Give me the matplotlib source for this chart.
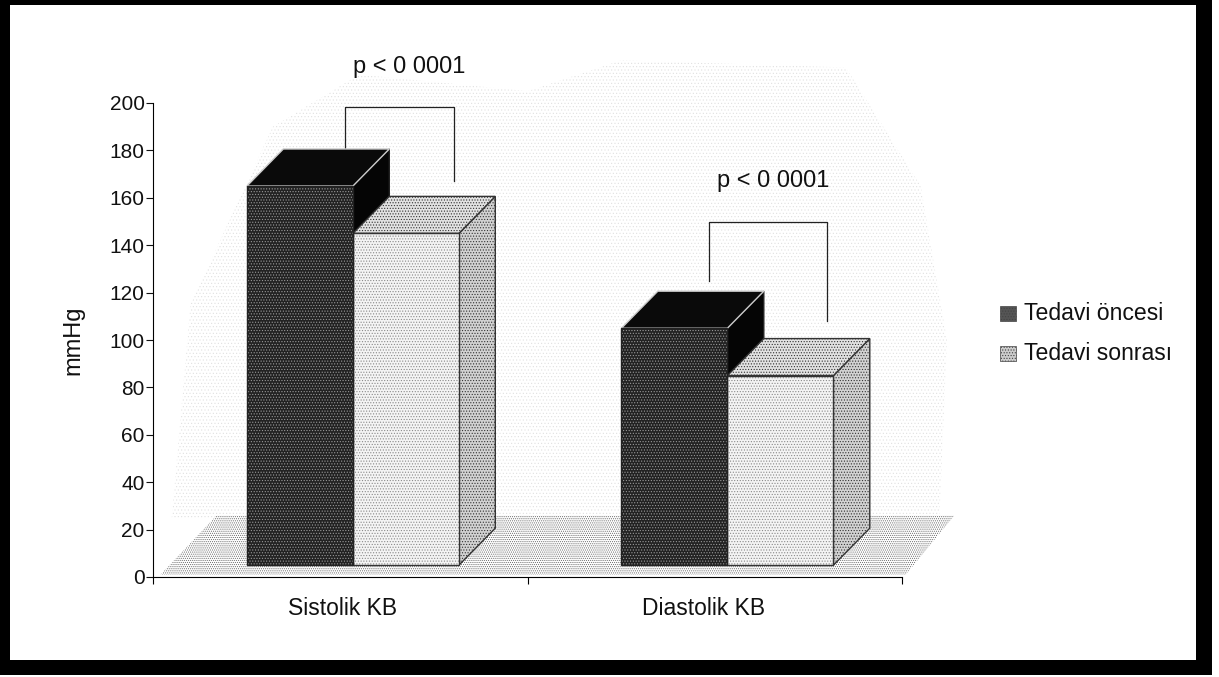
import matplotlib
matplotlib.use('Agg')
import matplotlib.pyplot as plt
from matplotlib.patches import Polygon, Rectangle

plt.rcParams['font.family'] = ['Liberation Sans', 'DejaVu Sans']
plt.rcParams['hatch.linewidth'] = 0.5

categories = ['Sistolik KB', 'Diastolik KB']
series_names = ['Tedavi öncesi', 'Tedavi sonrası']
before = [160, 100]
after = [140, 80]
y_ticks = list(range(0, 201, 20))
p_labels = ['p < 0 0001', 'p < 0 0001']

W, H = 1219, 677
fig = plt.figure(figsize=(W / 100, H / 100), dpi=100, facecolor='white')

# page frame, in pixels
page = fig.add_axes([0, 0, 1, 1], zorder=0)
page.set_xlim(0, W)
page.set_ylim(H, 0)
page.axis('off')
page.add_patch(Rectangle((0, 0), 10, 675, fc='black', lw=0))
page.add_patch(Rectangle((0, 0), 1212, 5, fc='black', lw=0))
page.add_patch(Rectangle((0, 660), 1212, 15, fc='black', lw=0))
page.add_patch(Rectangle((1196, 0), 16, 675, fc='black', lw=0))

# plot area: y 0..200 = 577..103 px, x 0..2 = 153..902 px
ax = fig.add_axes([153 / W, 1 - 577 / H, 749 / W, 474 / H], zorder=1)
ax.set_xlim(0, 2)
ax.set_ylim(0, 200)
ax.patch.set_alpha(0)
for s in ['top', 'right']:
    ax.spines[s].set_visible(False)

width = 0.283
depth_x = 0.097
depth_y = 15.6
floor = 5

# stippled wall and floor
wall = Polygon([(0.05, 25), (0.1, 115), (0.32, 190), (0.55, 212), (1.0, 205), (1.25, 218), (1.85, 215),
                (2.05, 165), (2.12, 100), (2.1, 25)],
               fc='none', ec='#555555', hatch='.....', lw=0, zorder=1, alpha=0.13, clip_on=False)
ax.add_patch(wall)
floor_poly = Polygon([(0.02, 1), (0.17, 26), (2.14, 26), (2.01, 1)],
                     fc='white', ec='#666666', hatch='........', lw=0, zorder=2, clip_on=False)
ax.add_patch(floor_poly)


def draw_bar(x, value, front, top, side, hatch_col, hatch, edge):
    ax.bar(x, value, width, bottom=floor, align='edge', color=front, edgecolor=hatch_col,
           hatch=hatch, lw=0, zorder=4)
    ax.add_patch(Rectangle((x, floor), width, value, fill=False, ec=edge, lw=1.0, zorder=6))
    y1 = value + floor
    ax.add_patch(Polygon([(x + width, floor), (x + width + depth_x, floor + depth_y),
                          (x + width + depth_x, y1 + depth_y), (x + width, y1)],
                         fc=side[0], ec=side[1], hatch=side[2], lw=1.0, zorder=3))
    ax.add_patch(Polygon([(x, y1), (x + depth_x, y1 + depth_y),
                          (x + width + depth_x, y1 + depth_y), (x + width, y1)],
                         fc=top[0], ec=top[1], hatch=top[2], lw=1.0, zorder=5))


for i in range(len(categories)):
    left = i + 0.251
    draw_bar(left + width, after[i], '#f4f4f4', ('#e2e2e2', '#333333', '......'),
             ('#d2d2d2', '#333333', '......'), '#8a8a8a', '......', '#333333')
    draw_bar(left, before[i], '#222222', ('#0a0a0a', '#cccccc', ''),
             ('#050505', '#222222', ''), '#999999', '......', '#222222')

# p value brackets
bracket_x = [(0.513, 0.805), (1.485, 1.80)]
bracket_top = [198.5, 150]
bracket_low = [(180, 167), (125, 108)]
text_x = [0.683, 1.655]
text_y = [215, 167]
for i in range(2):
    ax.plot([bracket_x[i][0], bracket_x[i][0], bracket_x[i][1], bracket_x[i][1]],
            [bracket_low[i][0], bracket_top[i], bracket_top[i], bracket_low[i][1]],
            color='#222222', lw=0.9, zorder=2.5, clip_on=False)
    ax.text(text_x[i], text_y[i], p_labels[i], ha='center', va='center', fontsize=17,
            color='#111111', clip_on=False)

ax.set_yticks(y_ticks)
ax.set_xticks([0, 1, 2])
ax.set_xticklabels(['', '', ''])
ax.tick_params(axis='y', labelsize=15, length=5, pad=1, colors='#111111')
ax.tick_params(axis='x', length=5)
label_x = [0.505, 1.47]
for x, name in zip(label_x, categories):
    ax.text(x, -13.5, name, ha='center', va='center', fontsize=16.5, color='#111111')
ax.set_ylabel('mmHg', fontsize=17, labelpad=18, color='#111111')

# legend keys and labels, in pixels
legend_y = [313, 353]
key_colors = ['#555555', '#cccccc']
for y, name, col in zip(legend_y, series_names, key_colors):
    page.add_patch(Rectangle((1000, y - 7), 16, 15, fc=col, ec='#444444', hatch='......', lw=0.5))
    page.text(1024, y, name, ha='left', va='center', fontsize=16.6, color='#111111')

fig.savefig('out.png', dpi=100)
plt.close(fig)
